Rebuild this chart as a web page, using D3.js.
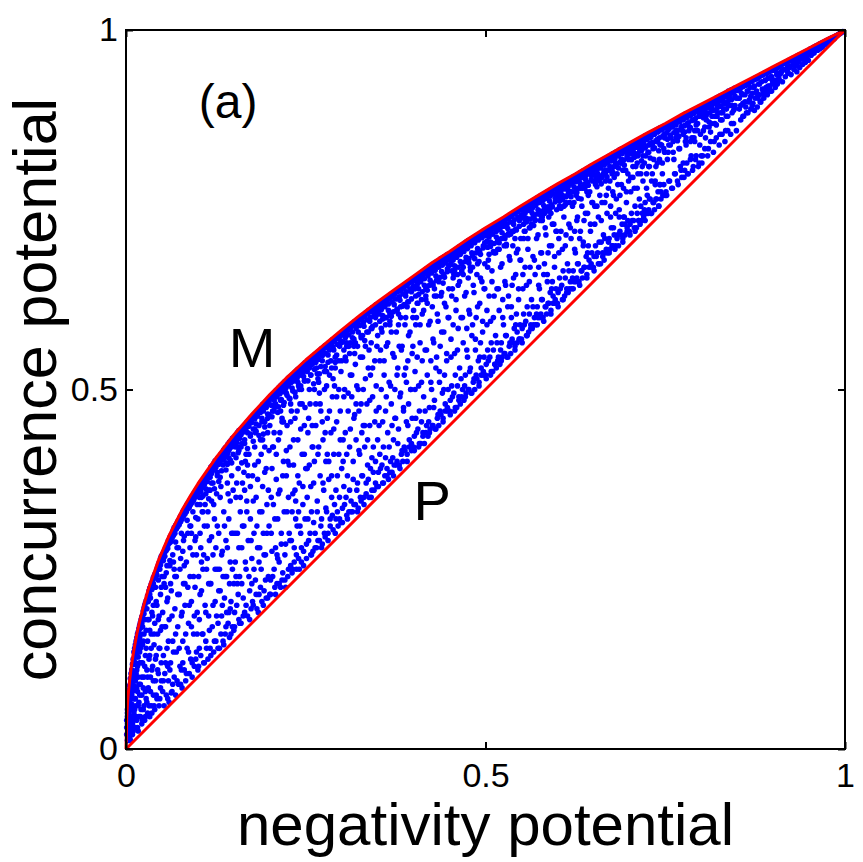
<!DOCTYPE html>
<html lang="en">
<head>
  <meta charset="UTF-8">
  <title>Concurrence vs negativity</title>
  <style>
    body { margin: 0; background: #fff; }
    svg { display: block; font-family: Arial, "Liberation Sans", Helvetica, sans-serif; }
  </style>
</head>
<body>
  <div id="chart"></div>

  <script src="https://d3js.org/d3.v7.min.js"></script>
  <script>
    const samples = [
      [1,30],[1,40],[2,20],[2,45],[2,55],[3,12],[3,35],[3,60],[3,70],[4,25],[4,50],[4,75],[4,82],[5,15],[5,40],[5,65],[5,88],[6,30],[6,55],[6,80],[6,98],[7,20],[7,70],[7,105],[8,45],[8,90],[8,110],[9,35],[9,60],[9,118],[10,25],[10,85],[10,125],
      [11,50],[11,100],[11,135],[12,70],[12,118],[12,140],[13,30],[13,95],[13,145],[14,60],[14,128],[14,150],[15,40],[15,110],[15,155],[16,80],[16,138],[16,160],[17,25],[17,100],[17,163],[18,65],[18,150],[18,168],[19,120],[19,172],[20,45],[20,90],[20,140],[20,176],
      [21,160],[21,180],[22,35],[22,75],[22,184],[23,120],[23,170],[24,55],[24,150],[24,192],[25,100],[25,196],[26,40],[26,180],[26,200],[27,130],[27,203],[28,70],[28,165],[28,206],[29,110],[29,195],[30,50],[30,150],[30,213],
      [31,85],[31,205],[32,180],[32,220],[33,45],[33,130],[33,224],[34,100],[34,210],[35,60],[35,160],[35,229],[36,190],[36,231],[37,115],[37,234],[38,75],[38,200],[38,238],[39,145],[39,240],[40,55],[40,175],[40,243],
      [41,95],[41,225],[42,130],[42,246],[43,70],[43,200],[43,250],[44,160],[44,253],[45,105],[45,235],[45,256],[46,60],[46,185],[46,259],[47,140],[47,250],[48,85],[48,215],[48,265],[49,120],[49,268],[50,170],[50,240],[50,269],
      [1,20],[2,35],[2,50],[3,45],[3,62],[4,38],[4,66],[5,55],[5,78],[6,70],[6,90],[7,85],[7,98],[8,75],[8,100],[9,95],[9,108],[10,105],[10,118],[11,122],[12,128],[13,120],[13,136],[14,140],[15,130],[16,150],[17,145],[18,160],[19,155],[20,168],[22,175],[23,185],[25,188],[27,195],[29,208],[31,212],[33,215],[36,222],[38,230],[41,238],[43,242],[46,250],[48,256],[50,262],
      [2,12],[3,25],[4,18],[5,30],[6,12],[6,45],[7,35],[7,55],[8,28],[8,62],[9,20],[9,80],[10,40],[10,70],[11,30],[11,88],[12,55],[12,95],[13,70],[14,45],[14,105],[15,85],[16,30],[16,115],[17,60],[17,128],[18,45],[18,90],[19,75],[19,135],[21,55],[21,120],[22,100],[23,40],[23,145],[24,85],[25,60],[25,160],[26,115],[27,45],[27,80],[28,140],[29,65],[30,100],[30,180],[32,60],[32,125],[33,165],[34,80],[35,140],[36,50],[36,110],[37,185],[38,95],[39,60],[39,160],[41,125],[42,75],[42,205],[44,110],[45,180],[46,140],[47,70],[48,165],[49,95],[49,225],
      [51,271],[52,262],[53,274],[54,268],[55,280],[56,276],[57,284],[58,279],[59,290],[60,286],[61,294],[62,288],[63,298],[64,293],[65,302],[66,297],[67,308],[68,300],[69,311],[70,306],[71,314],[72,309],[73,318],[74,312],[75,322],[76,316],[77,325],[78,320],[79,330],[80,324],[81,333],[82,327],[83,336],[84,330],[85,340],[86,334],[87,343],[88,336],[89,346],[90,340],[91,349],[92,343],[93,352],[94,346],[95,356],[96,350],[97,359],[98,352],[99,362],[100,355],
      [51,80],[51,190],[52,130],[53,60],[53,230],[54,105],[55,170],[56,75],[56,245],[57,140],[58,210],[59,95],[60,65],[60,180],[61,255],[62,120],[63,220],[64,80],[65,150],[66,260],[67,100],[68,195],[69,75],[70,240],[70,135],[71,280],[72,170],[73,90],[74,215],[75,115],[76,265],[77,185],[78,85],[79,150],[80,290],[80,230],[81,110],[82,200],[83,95],[84,260],[85,140],[86,300],[87,175],[88,105],[89,240],[90,125],[90,310],[91,205],[92,100],[93,270],[94,160],[95,115],[96,225],[97,295],[98,135],[99,190],[100,320],[100,110],
      [52,266],[54,274],[56,280],[58,283],[60,288],[62,296],[64,298],[66,305],[68,306],[70,309],[72,316],[74,318],[76,324],[78,326],[80,328],[82,334],[84,336],[86,341],[88,342],[90,345],[92,351],[94,352],[96,357],[98,358],[100,361],
      [53,240],[57,255],[61,262],[65,270],[69,288],[73,280],[77,300],[81,296],[85,318],[89,310],[93,330],[97,322],[55,225],[67,250],[79,275],[91,300],[99,340],
      [52,95],[54,170],[55,120],[57,205],[58,70],[59,150],[61,110],[62,230],[64,185],[65,90],[66,135],[68,240],[69,160],[71,95],[72,215],[74,140],[75,250],[76,90],[78,190],[79,120],[81,255],[83,160],[84,105],[86,225],[87,135],[89,280],[91,170],[92,120],[94,240],[95,185],[97,125],[98,270],[99,160],[63,78],[77,110],[88,200],[96,290],[58,115],[82,230],
      [101,362],[102,350],[103,366],[104,358],[105,372],[106,364],[107,352],[108,375],[109,368],[110,378],[111,362],[112,381],[113,372],[114,384],[115,360],[116,386],[117,378],[118,392],[119,383],[120,394],[121,370],[122,397],[123,388],[124,401],[125,392],[126,402],[127,380],[128,405],[129,396],[130,407],[131,399],[132,410],[133,387],[134,412],[135,403],[136,416],[137,405],[138,419],[139,398],[140,420],[141,411],[142,424],[143,415],[144,427],[145,402],[146,429],[147,420],[148,432],[149,424],[150,433],
      [101,115],[101,240],[102,180],[103,300],[104,130],[105,220],[106,330],[107,160],[108,270],[109,120],[110,200],[110,340],[111,150],[112,250],[113,310],[114,125],[115,185],[116,290],[117,140],[118,230],[119,345],[120,170],[121,270],[122,135],[123,320],[124,205],[125,150],[126,355],[127,250],[128,175],[129,300],[130,140],[131,220],[132,365],[133,185],[134,275],[135,150],[136,330],[137,210],[138,160],[139,290],[140,240],[141,370],[142,175],[143,320],[144,155],[145,260],[146,205],[147,380],[148,170],[149,300],[150,230],[150,165],[105,260],[115,230],[125,280],[135,240],[145,345],[140,190],[130,250],
      [102,364],[104,366],[106,371],[108,370],[110,376],[112,380],[114,380],[116,387],[118,386],[120,390],[122,394],[124,393],[126,399],[128,398],[130,403],[132,406],[134,405],[136,411],[138,410],[140,416],[142,418],[144,418],[146,424],[148,423],[150,429],
      [103,340],[107,330],[111,355],[115,348],[119,370],[123,362],[127,385],[131,378],[135,395],[139,388],[143,405],[147,398],[105,350],[117,360],[129,372],[141,396],[149,410],
      [102,140],[103,215],[104,280],[106,160],[107,250],[108,120],[109,310],[111,190],[112,140],[113,265],[114,330],[116,165],[117,230],[118,130],[119,295],[121,200],[122,340],[123,150],[124,250],[126,185],[127,310],[128,140],[129,220],[131,350],[132,160],[133,270],[134,200],[136,145],[137,310],[138,240],[139,170],[141,280],[142,355],[143,190],[144,230],[146,160],[147,300],[148,250],[149,360],[145,195],
      [151,430],[152,420],[153,436],[154,426],[155,440],[156,412],[157,443],[158,432],[159,444],[160,437],[161,425],[162,447],[163,441],[164,449],[165,430],[166,451],[167,446],[168,454],[169,440],[170,456],[171,449],[172,459],[173,438],[174,461],[175,454],[176,463],[177,445],[178,465],[179,459],[180,467],[181,452],[182,469],[183,463],[184,471],[185,450],[186,473],[187,468],[188,476],[189,460],[190,479],[191,470],[192,480],[193,455],[194,482],[195,475],[196,484],[197,466],[198,486],[199,480],[200,488],
      [151,170],[152,260],[153,350],[154,200],[155,300],[156,390],[157,180],[158,240],[159,330],[160,175],[161,280],[162,370],[163,210],[164,310],[165,190],[166,400],[167,250],[168,345],[169,185],[170,290],[171,410],[172,220],[173,320],[174,195],[175,265],[176,380],[177,200],[178,300],[179,420],[180,235],[181,350],[182,195],[183,280],[184,400],[185,215],[186,330],[187,430],[188,250],[189,205],[190,365],[191,300],[192,220],[193,420],[194,270],[195,210],[196,340],[197,440],[198,240],[199,310],[200,215],[155,230],[165,360],[175,230],[185,260],[195,390],[160,420],[170,380],[180,440],[190,430],[200,450],
      [152,430],[154,432],[156,436],[158,436],[160,442],[162,442],[164,448],[166,447],[168,452],[170,452],[172,458],[174,457],[176,462],[178,462],[180,466],[182,466],[184,471],[186,470],[188,475],[190,475],[192,479],[194,479],[196,484],[198,483],[200,487],
      [153,405],[157,415],[161,398],[165,425],[169,418],[173,435],[177,428],[181,442],[185,436],[189,455],[193,448],[197,460],[155,420],[167,410],[179,445],[191,438],[199,465],
      [151,190],[152,300],[153,240],[154,370],[156,215],[157,280],[158,175],[159,350],[161,230],[162,310],[163,185],[164,385],[166,260],[167,200],[168,330],[169,395],[171,240],[172,180],[173,365],[174,290],[176,205],[177,345],[178,250],[179,395],[181,215],[182,310],[183,375],[184,190],[186,280],[187,225],[188,410],[189,330],[191,200],[192,270],[193,385],[194,235],[196,300],[197,210],[198,360],[199,415],
      [201,488],[202,478],[203,492],[204,470],[205,494],[206,485],[207,496],[208,480],[209,499],[210,490],[211,500],[212,476],[213,503],[214,494],[215,505],[216,486],[217,507],[218,497],[219,509],[220,482],[221,511],[222,501],[223,512],[224,492],[225,515],[226,505],[227,517],[228,487],[229,518],[230,510],[231,520],[232,498],[233,521],[234,512],[235,524],[236,490],[237,526],[238,516],[239,528],[240,505],[241,529],[242,520],[243,531],[244,500],[245,533],[246,523],[247,535],[248,512],[249,537],[250,527],
      [201,215],[202,300],[203,390],[204,240],[205,340],[206,440],[207,225],[208,280],[209,375],[210,230],[211,320],[212,430],[213,260],[214,360],[215,225],[216,300],[217,455],[218,245],[219,400],[220,330],[221,235],[222,285],[223,380],[224,450],[225,240],[226,350],[227,300],[228,420],[229,255],[230,470],[231,330],[232,250],[233,395],[234,280],[235,460],[236,345],[237,250],[238,310],[239,430],[240,265],[241,370],[242,480],[243,300],[244,260],[245,410],[246,340],[247,275],[248,450],[249,320],[250,390],[205,420],[215,470],[225,400],[235,360],[245,480],[210,270],[230,290],[240,330],
      [202,487],[204,487],[206,492],[208,492],[210,497],[212,496],[214,502],[216,501],[218,506],[220,505],[222,510],[224,510],[226,514],[228,513],[230,518],[232,517],[234,522],[236,520],[238,526],[240,525],[242,529],[244,528],[246,533],[248,532],[250,535],
      [203,462],[207,475],[211,468],[215,485],[219,478],[223,495],[227,488],[231,502],[235,496],[239,510],[243,505],[247,518],[205,470],[217,460],[229,480],[241,500],[249,512],
      [201,235],[202,350],[203,275],[204,420],[206,250],[207,320],[208,215],[209,410],[211,265],[212,355],[213,230],[214,440],[216,285],[217,235],[218,380],[219,455],[221,270],[222,225],[223,415],[224,330],[226,250],[227,395],[228,290],[229,455],[231,245],[232,355],[233,430],[234,260],[236,320],[237,270],[238,470],[239,380],[241,250],[242,310],[243,445],[244,280],[246,365],[247,255],[248,410],[249,475],
      [251,536],[252,525],[253,539],[255,530],[256,542],[257,520],[258,544],[259,535],[260,546],[262,528],[263,549],[264,538],[265,550],[266,522],[267,552],[268,542],[270,555],[271,532],[272,557],[273,547],[275,559],[276,525],[277,561],[278,550],[280,563],[281,538],[282,565],[283,555],[285,567],[286,530],[287,569],[288,559],[290,571],[291,545],[292,573],[294,563],[295,575],[296,540],[297,577],[299,567],[300,579],
      [251,265],[252,350],[253,440],[254,290],[255,395],[256,480],[257,270],[258,330],[259,420],[260,275],[261,370],[262,500],[263,300],[264,450],[265,280],[266,345],[267,410],[268,510],[269,290],[270,380],[271,470],[272,320],[273,285],[274,430],[275,360],[276,500],[277,295],[278,400],[279,330],[280,460],[281,300],[282,375],[283,520],[284,310],[285,440],[286,350],[287,490],[288,305],[289,410],[290,340],[291,530],[292,320],[293,455],[294,380],[295,310],[296,500],[297,350],[298,430],[299,315],[300,390],[260,420],[270,480],[280,410],[290,505],[300,540],
      [252,535],[254,535],[256,540],[258,540],[260,544],[262,543],[264,548],[266,547],[268,552],[270,550],[272,555],[274,554],[276,559],[278,558],[280,561],[282,561],[284,565],[286,564],[288,568],[290,567],[292,572],[294,571],[296,575],[298,574],[300,578],
      [253,512],[257,520],[261,508],[265,530],[269,522],[273,540],[277,532],[281,548],[285,540],[289,555],[293,548],[297,560],[255,500],[267,515],[279,525],[291,538],[299,565],
      [251,285],[252,390],[253,320],[254,460],[256,300],[257,365],[258,270],[259,450],[261,315],[262,400],[263,280],[264,480],[266,330],[267,290],[268,420],[269,495],[271,310],[272,280],[273,455],[274,370],[276,300],[277,440],[278,335],[279,505],[281,290],[282,400],[283,470],[284,320],[286,380],[287,325],[288,515],[289,445],[291,300],[292,360],[293,490],[294,330],[296,410],[297,320],[298,470],[299,525],
      [301,578],[302,566],[303,581],[305,572],[306,583],[307,560],[308,585],[310,576],[311,587],[312,565],[313,590],[315,580],[316,592],[317,570],[318,594],[320,585],[321,596],[322,560],[323,598],[325,589],[326,600],[327,575],[328,602],[330,593],[331,604],[332,568],[333,606],[335,597],[336,608],[337,580],[338,610],[340,600],[341,612],[342,585],[343,614],[345,605],[346,616],[347,590],[348,618],[350,609],
      [301,315],[302,400],[303,490],[304,340],[305,440],[306,540],[307,325],[308,380],[309,470],[310,330],[311,420],[312,520],[313,345],[314,490],[315,330],[316,400],[317,460],[318,550],[319,340],[320,430],[321,505],[322,370],[323,335],[324,470],[325,410],[326,545],[327,345],[328,440],[329,380],[330,500],[331,350],[332,420],[333,560],[334,355],[335,480],[336,395],[337,530],[338,350],[339,450],[340,390],[341,565],[342,360],[343,490],[344,420],[345,360],[346,540],[347,400],[348,470],[349,365],[350,430],[310,560],[320,480],[330,450],[340,520],[350,575],
      [302,577],[304,577],[306,582],[308,582],[310,586],[312,585],[314,590],[316,589],[318,594],[320,592],[322,597],[324,596],[326,600],[328,599],[330,603],[332,602],[334,607],[336,605],[338,610],[340,608],[342,613],[344,611],[346,616],[348,614],[350,618],
      [303,555],[307,565],[311,550],[315,572],[319,565],[323,580],[327,572],[331,588],[335,580],[339,595],[343,588],[347,600],[305,545],[317,560],[329,575],[341,585],[349,605],
      [301,335],[302,430],[303,365],[304,500],[306,350],[307,410],[308,320],[309,495],[311,360],[312,445],[313,330],[314,520],[316,375],[317,340],[318,465],[319,535],[321,360],[322,330],[323,500],[324,415],[326,350],[327,480],[328,380],[329,545],[331,340],[332,450],[333,515],[334,370],[336,430],[337,375],[338,555],[339,485],[341,350],[342,405],[343,530],[344,385],[346,455],[347,370],[348,505],[349,560],
      [351,617],[352,605],[353,620],[355,611],[356,622],[357,598],[358,624],[360,615],[361,626],[362,600],[363,628],[365,619],[366,630],[367,605],[368,632],[370,622],[371,633],[372,608],[373,635],[375,626],[376,637],[377,612],[378,638],[380,629],[381,640],[382,615],[383,642],[385,633],[386,644],[387,618],[388,646],[390,636],[391,647],[392,622],[393,649],[395,640],[396,651],[397,626],[398,653],[400,644],
      [351,365],[352,450],[353,540],[354,390],[355,500],[356,580],[357,370],[358,420],[359,520],[360,380],[361,470],[362,560],[363,390],[364,440],[365,375],[366,510],[367,590],[368,400],[369,480],[370,385],[371,550],[372,430],[373,395],[374,500],[375,460],[376,580],[377,400],[378,530],[379,445],[380,395],[381,490],[382,600],[383,410],[384,560],[385,400],[386,470],[387,520],[388,415],[389,600],[390,455],[391,410],[392,540],[393,480],[394,420],[395,580],[396,500],[397,425],[398,460],[399,560],[400,420],[360,600],[370,450],[380,560],[390,510],[400,610],
      [352,616],[354,616],[356,620],[358,619],[360,624],[362,622],[364,627],[366,626],[368,631],[370,629],[372,634],[374,633],[376,637],[378,636],[380,640],[382,638],[384,643],[386,641],[388,646],[390,644],[392,649],[394,648],[396,652],[398,650],[400,654],
      [353,595],[357,603],[361,590],[365,610],[369,602],[373,618],[377,610],[381,624],[385,616],[389,630],[393,622],[397,636],[355,585],[367,595],[379,605],[391,615],[399,640],
      [351,385],[352,475],[353,410],[354,555],[356,395],[357,455],[358,370],[359,540],[361,405],[362,490],[363,380],[364,565],[366,420],[367,385],[368,505],[369,580],[371,405],[372,380],[373,545],[374,460],[376,395],[377,520],[378,425],[379,590],[381,390],[382,495],[383,555],[384,415],[386,475],[387,420],[388,590],[389,530],[391,400],[392,450],[393,575],[394,430],[396,500],[397,415],[398,550],[399,600],
      [401,652],[402,640],[403,655],[405,646],[406,658],[407,632],[408,660],[410,650],[411,662],[412,636],[413,664],[415,654],[416,666],[417,640],[418,668],[420,658],[421,670],[422,645],[423,671],[425,662],[426,673],[427,648],[428,675],[430,666],[431,677],[432,652],[433,678],[435,670],[436,680],[437,656],[438,682],[440,673],[441,683],[442,660],[443,685],[445,676],[446,687],[447,664],[448,688],[450,680],
      [401,415],[402,500],[403,590],[404,440],[405,545],[406,620],[407,420],[408,470],[409,565],[410,425],[411,510],[412,605],[413,440],[414,490],[415,425],[416,555],[417,625],[418,450],[419,520],[420,435],[421,590],[422,475],[423,445],[424,540],[425,500],[426,615],[427,450],[428,565],[429,485],[430,445],[431,530],[432,630],[433,460],[434,595],[435,450],[436,510],[437,560],[438,465],[439,635],[440,495],[441,460],[442,580],[443,520],[444,470],[445,615],[446,540],[447,475],[448,500],[449,600],[450,470],
      [402,652],[404,652],[406,656],[408,655],[410,660],[412,658],[414,663],[416,661],[418,666],[420,664],[422,669],[424,667],[426,671],[428,670],[430,674],[432,672],[434,677],[436,675],[438,680],[440,678],[442,683],[444,681],[446,685],[448,684],[450,688],
      [403,630],[407,640],[411,625],[415,645],[419,638],[423,652],[427,645],[431,658],[435,650],[439,664],[443,656],[447,668],[405,620],[417,630],[429,640],[441,648],[449,672],
      [401,435],[402,525],[403,460],[404,600],[406,445],[407,505],[408,425],[409,590],[411,455],[412,540],[413,435],[414,610],[416,470],[417,440],[418,555],[419,620],[421,455],[422,440],[423,595],[424,510],[426,450],[427,570],[428,475],[429,630],[431,445],[432,545],[433,605],[434,465],[436,525],[437,470],[438,630],[439,580],[441,455],[442,500],[443,620],[444,480],[446,550],[447,470],[448,600],[449,640],
      [451,686],[452,674],[453,689],[455,680],[456,692],[457,666],[458,694],[460,684],[461,696],[462,670],[463,698],[465,688],[466,700],[467,675],[468,701],[470,692],[471,703],[472,678],[473,705],[475,696],[476,707],[477,682],[478,708],[480,700],[481,710],[482,686],[483,711],[485,704],[486,713],[487,690],[488,714],[490,708],[491,716],[492,693],[493,717],[495,711],[496,719],[497,697],[498,721],[500,714],
      [451,465],[452,545],[453,630],[454,490],[455,590],[456,660],[457,470],[458,520],[459,610],[460,475],[461,555],[462,645],[463,490],[464,530],[465,480],[466,600],[467,665],[468,500],[469,565],[470,485],[471,630],[472,520],[473,495],[474,585],[475,545],[476,655],[477,500],[478,605],[479,530],[480,495],[481,575],[482,670],[483,510],[484,635],[485,500],[486,555],[487,600],[488,515],[489,675],[490,540],[491,510],[492,620],[493,565],[494,520],[495,650],[496,580],[497,525],[498,545],[499,640],[500,520],
      [452,686],[454,686],[456,690],[458,689],[460,693],[462,691],[464,696],[466,694],[468,699],[470,697],[472,702],[474,700],[476,705],[478,703],[480,707],[482,705],[484,710],[486,708],[488,713],[490,711],[492,716],[494,714],[496,718],[498,716],[500,720],
      [453,665],[457,672],[461,660],[465,678],[469,670],[473,684],[477,676],[481,690],[485,682],[489,696],[493,688],[497,700],[455,655],[467,662],[479,670],[491,678],[499,704],
      [451,485],[452,570],[453,505],[454,640],[456,495],[457,550],[458,475],[459,625],[461,505],[462,585],[463,485],[464,650],[466,515],[467,490],[468,600],[469,660],[471,505],[472,490],[473,635],[474,555],[476,500],[477,610],[478,525],[479,665],[481,495],[482,590],[483,645],[484,515],[486,570],[487,520],[488,660],[489,615],[491,505],[492,545],[493,655],[494,530],[496,595],[497,520],[498,640],[499,675],
      [501,718],[502,706],[503,721],[505,712],[506,723],[507,699],[508,725],[510,716],[511,727],[512,703],[513,729],[515,720],[516,730],[517,707],[518,732],[520,723],[521,734],[522,710],[523,735],[525,727],[526,737],[527,714],[528,738],[530,730],[531,740],[532,717],[533,741],[535,733],[536,743],[537,720],[538,744],[540,736],[541,746],[542,723],[543,747],[545,740],[546,749],[547,727],[548,751],[550,743],
      [501,515],[502,590],[503,670],[504,540],[505,630],[506,700],[507,520],[508,565],[509,650],[510,525],[511,600],[512,690],[513,535],[514,575],[515,530],[516,640],[517,705],[518,545],[519,610],[520,535],[521,670],[522,565],[523,545],[524,625],[525,590],[526,700],[527,550],[528,645],[529,575],[530,545],[531,615],[532,715],[533,560],[534,680],[535,550],[536,600],[537,645],[538,565],[539,720],[540,585],[541,560],[542,660],[543,605],[544,565],[545,695],[546,625],[547,570],[548,590],[549,680],[550,570],
      [502,718],[504,718],[506,722],[508,721],[510,725],[512,724],[514,728],[516,727],[518,731],[520,730],[522,734],[524,733],[526,737],[528,736],[530,740],[532,738],[534,743],[536,741],[538,745],[540,744],[542,747],[544,747],[546,750],[548,750],[550,752],
      [503,698],[507,705],[511,692],[515,712],[519,704],[523,718],[527,710],[531,724],[535,716],[539,730],[543,722],[547,735],[505,688],[517,695],[529,702],[541,710],[549,738],
      [501,535],[502,610],[503,555],[504,680],[506,545],[507,595],[508,525],[509,665],[511,555],[512,630],[513,535],[514,690],[516,565],[517,540],[518,640],[519,695],[521,555],[522,540],[523,675],[524,600],[526,550],[527,650],[528,575],[529,700],[531,545],[532,630],[533,685],[534,565],[536,615],[537,570],[538,700],[539,655],[541,555],[542,590],[543,690],[544,580],[546,640],[547,570],[548,680],[549,710],
      [551,750],[552,740],[553,753],[555,745],[556,755],[557,733],[558,757],[560,749],[561,759],[562,737],[563,761],[565,752],[566,762],[567,741],[568,764],[570,756],[571,766],[572,744],[573,767],[575,760],[576,769],[577,748],[578,770],[580,763],[581,772],[582,751],[583,773],[585,766],[586,775],[587,754],[588,776],[590,769],[591,778],[592,757],[593,779],[595,772],[596,781],[597,761],[598,781],[600,776],
      [551,565],[552,640],[553,710],[554,590],[555,670],[556,735],[557,575],[558,615],[559,695],[560,580],[561,650],[562,725],[563,590],[564,625],[565,585],[566,685],[567,740],[568,600],[569,660],[570,590],[571,710],[572,615],[573,600],[574,670],[575,640],[576,735],[577,605],[578,690],[579,625],[580,600],[581,660],[582,745],[583,615],[584,715],[585,605],[586,650],[587,690],[588,620],[589,750],[590,635],[591,610],[592,700],[593,650],[594,620],[595,730],[596,670],[597,625],[598,640],[599,720],[600,620],
      [552,750],[554,749],[556,753],[558,752],[560,756],[562,754],[564,759],[566,757],[568,762],[570,760],[572,765],[574,763],[576,765],[578,766],[580,768],[582,769],[584,771],[586,772],[588,774],[590,775],[592,777],[594,778],[596,780],[598,780],[600,781],
      [553,730],[557,738],[561,725],[565,745],[569,736],[573,750],[577,742],[581,756],[585,748],[589,762],[593,754],[597,766],[555,720],[567,728],[579,735],[591,745],[599,770],
      [551,585],[552,660],[553,605],[554,720],[556,595],[557,645],[558,575],[559,710],[561,605],[562,670],[563,585],[564,730],[566,615],[567,590],[568,680],[569,735],[571,605],[572,590],[573,715],[574,645],[576,600],[577,690],[578,625],[579,740],[581,595],[582,675],[583,725],[584,615],[586,660],[587,620],[588,740],[589,700],[591,605],[592,640],[593,730],[594,630],[596,685],[597,620],[598,720],[599,750],
      [601,780],[602,770],[603,783],[605,776],[606,785],[607,764],[608,787],[610,779],[611,789],[612,768],[613,790],[615,782],[616,792],[617,772],[618,793],[620,786],[621,795],[622,775],[623,796],[625,789],[626,798],[627,778],[628,799],[630,792],[631,801],[632,782],[633,802],[635,795],[636,804],[637,785],[638,805],[640,798],[641,807],[642,788],[643,808],[645,802],[646,810],[647,792],[648,811],[650,805],
      [601,615],[602,690],[603,755],[604,640],[605,720],[606,770],[607,625],[608,665],[609,740],[610,630],[611,700],[612,760],[613,640],[614,675],[615,635],[616,730],[617,775],[618,650],[619,710],[620,640],[621,755],[622,665],[623,650],[624,720],[625,690],[626,770],[627,655],[628,740],[629,675],[630,650],[631,710],[632,780],[633,665],[634,755],[635,655],[636,700],[637,735],[638,670],[639,785],[640,685],[641,660],[642,745],[643,700],[644,670],[645,775],[646,720],[647,675],[648,690],[649,760],[650,670],
      [602,780],[604,779],[606,783],[608,782],[610,786],[612,785],[614,789],[616,788],[618,792],[620,791],[622,794],[624,794],[626,797],[628,796],[630,799],[632,799],[634,802],[636,801],[638,804],[640,804],[642,807],[644,806],[646,809],[648,809],[650,811],
      [603,762],[607,770],[611,757],[615,776],[619,768],[623,782],[627,774],[631,788],[635,780],[639,792],[643,784],[647,798],[605,752],[617,760],[629,766],[641,775],[649,800],
      [601,635],[602,710],[603,655],[604,765],[606,645],[607,695],[608,625],[609,755],[611,655],[612,715],[613,635],[614,770],[616,665],[617,640],[618,725],[619,775],[621,655],[622,640],[623,760],[624,695],[626,650],[627,735],[628,675],[629,780],[631,645],[632,720],[633,765],[634,665],[636,705],[637,670],[638,780],[639,745],[641,655],[642,690],[643,770],[644,680],[646,730],[647,670],[648,760],[649,790],
      [651,809],[652,798],[653,812],[655,805],[656,814],[657,793],[658,816],[660,808],[661,818],[662,797],[663,819],[665,812],[666,821],[667,801],[668,822],[670,815],[671,824],[672,805],[673,825],[675,818],[676,827],[677,809],[678,828],[680,821],[681,830],[682,812],[683,831],[685,825],[686,833],[687,816],[688,834],[690,828],[691,835],[692,819],[693,836],[695,831],[696,837],[697,823],[698,838],[700,834],
      [651,665],[652,730],[653,785],[654,685],[655,755],[656,800],[657,675],[658,705],[659,770],[660,675],[661,735],[662,795],[663,685],[664,715],[665,680],[666,760],[667,805],[668,695],[669,745],[670,690],[671,780],[672,710],[673,695],[674,755],[675,725],[676,800],[677,700],[678,770],[679,715],[680,695],[681,745],[682,810],[683,710],[684,785],[685,700],[686,740],[687,770],[688,715],[689,815],[690,730],[691,705],[692,780],[693,740],[694,715],[695,805],[696,760],[697,720],[698,735],[699,790],[700,720],
      [652,809],[654,808],[656,812],[658,811],[660,815],[662,814],[664,818],[666,817],[668,821],[670,820],[672,823],[674,823],[676,826],[678,825],[680,828],[682,828],[684,831],[686,830],[688,833],[690,833],[692,835],[694,835],[696,837],[698,837],[700,839],
      [653,790],[657,798],[661,786],[665,804],[669,796],[673,810],[677,802],[681,815],[685,808],[689,820],[693,812],[697,826],[655,782],[667,790],[679,795],[691,805],[699,830],
      [651,685],[652,755],[653,700],[654,795],[656,690],[657,740],[658,675],[659,790],[661,705],[662,760],[663,690],[664,800],[666,710],[667,690],[668,770],[669,805],[671,705],[672,690],[673,790],[674,740],[676,700],[677,775],[678,725],[679,810],[681,700],[682,765],[683,800],[684,715],[686,750],[687,720],[688,815],[689,785],[691,710],[692,740],[693,805],[694,730],[696,775],[697,725],[698,800],[699,820],
      [701,837],[702,828],[703,840],[705,834],[706,842],[707,823],[708,844],[710,837],[711,846],[712,828],[713,847],[715,841],[716,849],[717,832],[718,850],[720,844],[721,852],[722,836],[723,853],[725,848],[726,854],[727,840],[728,856],[730,851],[731,857],[732,843],[733,858],[735,855],[736,860],[737,846],[738,861],[740,858],[741,863],[742,850],[743,864],[745,861],[746,865],[747,853],[748,866],[750,864],
      [701,715],[702,775],[703,820],[704,735],[705,795],[706,830],[707,725],[708,755],[709,810],[710,725],[711,780],[712,825],[713,735],[714,765],[715,730],[716,800],[717,835],[718,745],[719,790],[720,740],[721,815],[722,760],[723,745],[724,800],[725,770],[726,830],[727,750],[728,810],[729,765],[730,745],[731,790],[732,840],[733,760],[734,820],[735,750],[736,785],[737,810],[738,765],[739,845],[740,775],[741,755],[742,820],[743,785],[744,765],[745,840],[746,800],[747,770],[748,785],[749,830],[750,770],
      [702,837],[704,836],[706,840],[708,839],[710,843],[712,842],[714,846],[716,845],[718,848],[720,848],[722,851],[724,850],[726,853],[728,853],[730,856],[732,855],[734,858],[736,858],[738,860],[740,860],[742,862],[744,862],[746,864],[748,864],[750,866],
      [703,820],[707,826],[711,815],[715,832],[719,825],[723,838],[727,830],[731,843],[735,836],[739,848],[743,841],[747,852],[705,810],[717,818],[729,822],[741,832],[749,855],
      [701,730],[702,795],[703,745],[704,830],[706,735],[707,780],[708,720],[709,825],[711,745],[712,800],[713,735],[714,835],[716,755],[717,735],[718,810],[719,838],[721,750],[722,735],[723,825],[724,780],[726,745],[727,810],[728,765],[729,842],[731,745],[732,800],[733,835],[734,760],[736,790],[737,765],[738,845],[739,815],[741,755],[742,785],[743,840],[744,775],[746,815],[747,770],[748,835],[749,850],
      [751,864],[752,857],[753,867],[755,862],[756,869],[757,852],[758,871],[760,865],[761,872],[762,857],[763,874],[765,868],[766,875],[767,860],[768,877],[770,872],[771,878],[772,864],[773,880],[775,875],[776,881],[777,867],[778,883],[780,878],[781,884],[782,871],[783,885],[785,881],[786,887],[787,874],[788,888],[790,884],[791,889],[792,877],[793,890],[795,887],[796,892],[797,880],[798,893],[800,890],
      [752,770],[754,830],[756,790],[758,850],[760,780],[762,820],[764,800],[766,855],[768,785],[770,835],[772,805],[774,860],[776,795],[778,845],[780,815],[782,800],[784,865],[786,825],[788,805],[790,850],[792,820],[794,870],[796,810],[798,840],[800,825],[775,815],[785,845],[795,860],
      [752,865],[754,864],[756,868],[758,867],[760,870],[762,870],[764,873],[766,872],[768,876],[770,875],[772,878],[774,878],[776,880],[778,880],[780,883],[782,882],[784,885],[786,885],[788,887],[790,887],[792,889],[794,889],[796,891],[798,891],[800,893],
      [753,848],[757,854],[761,845],[765,860],[769,852],[773,866],[777,858],[781,870],[785,864],[789,875],[793,868],[797,880],[755,840],[767,846],[779,850],[791,860],[799,884],
      [751,775],[753,820],[755,790],[757,840],[759,780],[761,830],[763,800],[765,850],[767,790],[769,835],[771,810],[773,795],[775,855],[777,805],[779,840],[781,800],[783,860],[785,820],[787,850],[789,810],[791,845],[793,825],[795,870],[797,815],[799,855],
      [801,891],[802,884],[803,894],[805,889],[806,896],[807,881],[808,897],[810,892],[811,899],[812,885],[813,900],[815,895],[816,902],[817,888],[818,903],[820,898],[821,904],[822,891],[823,906],[825,901],[826,907],[827,894],[828,908],[830,904],[831,910],[832,897],[833,911],[835,907],[836,912],[837,900],[838,914],[840,910],[841,915],[842,903],[843,916],[845,913],[846,918],[847,906],[848,919],[850,916],
      [801,815],[803,860],[805,835],[807,875],[809,825],[811,865],[813,845],[815,880],[817,830],[819,870],[821,850],[823,885],[825,840],[827,875],[829,855],[831,890],[833,845],[835,880],[837,860],[839,895],[841,855],[843,885],[845,870],[847,895],[849,860],
      [802,892],[804,892],[806,895],[808,895],[810,898],[812,898],[814,900],[816,900],[818,903],[820,903],[822,906],[824,905],[826,908],[828,908],[830,910],[832,910],[834,912],[836,912],[838,915],[840,914],[842,917],[844,917],[846,919],[848,919],[850,920],
      [803,878],[807,885],[811,872],[815,890],[819,880],[823,895],[827,885],[831,900],[835,890],[839,905],[843,895],[847,908],[805,865],[813,858],[821,868],[829,875],[837,880],[845,888],[849,905],[802,825],[806,850],[810,835],[814,870],[818,845],[822,880],[826,855],[830,885],[834,860],[838,895],[842,870],[846,890],
      [851,917],[852,905],[853,890],[854,920],[855,875],[856,912],[857,921],[858,898],[859,880],[860,923],[861,910],[862,893],[863,925],[864,915],[865,885],[866,927],[867,903],[868,920],[869,890],[870,929],[871,912],[872,898],[873,931],[874,922],[875,905],[876,932],[877,915],[878,893],[879,934],[880,925],[881,910],[882,936],[883,900],[884,928],[885,937],[886,915],[887,905],[888,939],[889,930],[890,920],[891,940],[892,910],[893,933],[894,942],[895,922],[896,915],[897,943],[898,935],[899,925],[900,944],
      [852,918],[854,918],[856,921],[858,921],[860,924],[862,923],[864,926],[866,926],[868,929],[870,928],[872,931],[874,931],[876,934],[878,933],[880,935],[882,936],[884,938],[886,938],[888,940],[890,940],[892,942],[894,942],[896,944],[898,944],[900,946],
      [853,905],[857,910],[861,900],[865,915],[869,908],[873,920],[877,912],[881,925],[885,918],[889,930],[893,922],[897,935],[855,895],[863,885],[871,895],[879,905],[887,910],[895,920],[899,930],[858,880],[866,900],[874,888],[882,900],[890,915],[898,915],
      [901,945],[902,930],[903,920],[904,948],[905,938],[906,925],[907,950],[908,940],[909,930],[910,951],[912,943],[913,928],[914,953],[915,945],[917,935],[918,955],[920,948],[921,940],[922,957],[924,950],[925,938],[926,959],[928,952],[929,945],[930,960],[932,955],[933,942],[934,962],[936,957],[937,948],[938,964],[940,960],[941,952],[942,966],[944,962],[945,955],[946,968],[948,965],[949,958],[950,970],
      [902,944],[904,946],[906,948],[908,949],[910,950],[912,952],[914,953],[916,954],[918,955],[920,956],[922,958],[924,958],[926,960],[928,961],[930,961],[932,963],[934,964],[936,965],[938,966],[940,966],[942,968],[944,969],[946,970],[948,971],[950,972],
      [905,930],[911,940],[917,945],[923,948],[929,953],[935,955],[941,960],[947,963],[908,935],[920,942],[932,950],[944,958],
      [951,972],[953,965],[955,974],[957,968],[959,977],[961,972],[963,979],[965,974],[967,981],[969,977],[971,983],[973,980],[975,985],[977,982],[979,987],[981,985],[983,989],[985,988],[988,992],[991,994],[994,996],[997,998],
      [952,974],[954,973],[956,976],[958,976],[960,978],[962,978],[964,980],[966,981],[968,982],[970,983],[972,984],[974,985],[976,986],[978,987],[980,988],[982,989],[984,990],[986,991],[988,992],[990,993],[993,995],[996,997],[956,968],[962,972],[968,976],[974,980],[980,984]
    ];

    // boundary curves, [negativity, concurrence] in thousandths
    const boundM = [
      [0,0],[1,44],[2,61],[3,75],[5,95],[7,112],[10,132],[15,160],[20,182],[25,201],[30,219],[35,234],[40,248],[45,262],[50,274],
      [60,297],[70,317],[80,336],[90,353],[100,369],[125,405],[150,437],[175,466],[200,493],[225,518],[250,541],[275,562],[300,583],
      [325,603],[350,622],[375,640],[400,658],[425,676],[450,692],[475,709],[500,725],[525,740],[550,756],[575,771],[600,786],
      [625,800],[650,815],[675,829],[700,843],[725,857],[750,870],[775,884],[800,897],[825,910],[850,923],[875,936],[900,949],
      [925,962],[950,975],[975,988],[1000,1000]
    ];
    const boundP = [[0,0],[1000,1000]];

    const tickValues = [0, 0.5, 1];
    const tickLabels = ['0', '0.5', '1'];
    const xTitle = 'negativity potential';
    const yTitle = 'concurrence potential';

    const width = 863;
    const height = 862;
    const margin = { top: 30, right: 18, bottom: 113, left: 126 };

    const toUnit = d => ({ neg: d[0] / 1000, conc: d[1] / 1000 });
    const points = samples.map(toUnit);

    const svg = d3.select('#chart')
      .append('svg')
      .attr('width', width)
      .attr('height', height);

    const x = d3.scaleLinear()
      .domain([0, 1])
      .range([margin.left, width - margin.right]);

    const y = d3.scaleLinear()
      .domain([0, 1])
      .range([height - margin.bottom, margin.top]);

    // scatter of states
    svg.append('g')
      .selectAll('circle')
      .data(points)
      .join('circle')
      .attr('cx', d => x(d.neg))
      .attr('cy', d => y(d.conc))
      .attr('r', 2.8)
      .attr('fill', '#0000ff');

    // red boundaries on top
    const line = d3.line()
      .x(d => x(d.neg))
      .y(d => y(d.conc));

    [boundM, boundP].forEach(b => {
      svg.append('path')
        .datum(b.map(toUnit))
        .attr('fill', 'none')
        .attr('stroke', '#ff0000')
        .attr('stroke-width', 3)
        .attr('stroke-linejoin', 'round')
        .attr('d', line);
    });

    // axes, ticks pointing inward on all four sides
    const fmt = (d, i) => tickLabels[i];
    const styleAxis = g => {
      g.select('.domain').remove();
      g.selectAll('.tick line').attr('stroke', '#000').attr('stroke-width', 2);
      g.selectAll('.tick text')
        .attr('fill', '#000')
        .style('font-size', '34px')
        .style('font-family', 'Arial, "Liberation Sans", sans-serif');
    };

    svg.append('g')
      .attr('transform', `translate(0,${height - margin.bottom})`)
      .call(d3.axisBottom(x).tickValues(tickValues).tickFormat(fmt).tickSize(-7).tickPadding(14))
      .call(styleAxis);

    svg.append('g')
      .attr('transform', `translate(${margin.left},0)`)
      .call(d3.axisLeft(y).tickValues(tickValues).tickFormat(fmt).tickSize(-7).tickPadding(8))
      .call(styleAxis);

    svg.append('g')
      .attr('transform', `translate(0,${margin.top})`)
      .call(d3.axisTop(x).tickValues(tickValues).tickFormat('').tickSize(-7))
      .call(styleAxis);

    svg.append('g')
      .attr('transform', `translate(${width - margin.right},0)`)
      .call(d3.axisRight(y).tickValues(tickValues).tickFormat('').tickSize(-7))
      .call(styleAxis);

    // box
    svg.append('rect')
      .attr('x', x(0))
      .attr('y', y(1))
      .attr('width', x(1) - x(0))
      .attr('height', y(0) - y(1))
      .attr('fill', 'none')
      .attr('stroke', '#000')
      .attr('stroke-width', 2);

    // titles
    svg.append('text')
      .attr('x', (x(0) + x(1)) / 2)
      .attr('y', 845)
      .attr('text-anchor', 'middle')
      .style('font-size', '60px')
      .text(xTitle);

    svg.append('text')
      .attr('transform', `translate(56,${(y(0) + y(1)) / 2}) rotate(-90)`)
      .attr('text-anchor', 'middle')
      .style('font-size', '61px')
      .text(yTitle);

    // panel tag and curve names
    svg.append('text')
      .attr('x', x(0.142))
      .attr('y', y(0.878))
      .attr('text-anchor', 'middle')
      .style('font-size', '48px')
      .text('(a)');

    svg.append('text')
      .attr('x', x(0.143))
      .attr('y', y(0.531))
      .style('font-size', '56px')
      .text('M');

    svg.append('text')
      .attr('x', x(0.400))
      .attr('y', y(0.318))
      .style('font-size', '56px')
      .text('P');
  </script>
</body>
</html>
